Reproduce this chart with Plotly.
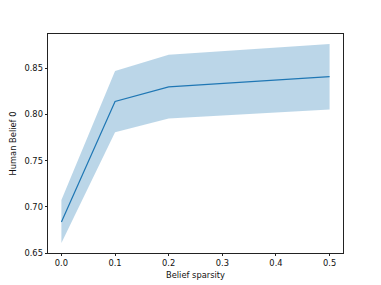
import plotly.graph_objects as go

sparsity = [0.0, 0.1, 0.2, 0.5]
mean_belief = [0.6836, 0.8142, 0.8300, 0.8410]
upper_belief = [0.7075, 0.8470, 0.8648, 0.8764]
lower_belief = [0.6608, 0.7809, 0.7958, 0.8055]
x_ticks = [0.0, 0.1, 0.2, 0.3, 0.4, 0.5]
x_tick_labels = ["0.0", "0.1", "0.2", "0.3", "0.4", "0.5"]
y_ticks = [0.65, 0.70, 0.75, 0.80, 0.85]
y_tick_labels = ["0.65", "0.70", "0.75", "0.80", "0.85"]

C0 = "#1f77b4"

fig = go.Figure()
fig.add_trace(go.Scatter(x=sparsity, y=upper_belief, mode="lines",
                         line=dict(width=0), showlegend=False, hoverinfo="skip"))
fig.add_trace(go.Scatter(x=sparsity, y=lower_belief, mode="lines",
                         line=dict(width=0), fill="tonexty",
                         fillcolor="rgba(31,119,180,0.3)", showlegend=False, hoverinfo="skip"))
fig.add_trace(go.Scatter(x=sparsity, y=mean_belief, mode="lines",
                         line=dict(color=C0, width=1.2), showlegend=False))

axis_common = dict(showgrid=False, zeroline=False, showline=True, linecolor="#222",
                   linewidth=0.8, mirror=True, ticks="outside", ticklen=2.5,
                   tickwidth=0.8, tickcolor="#222", automargin=False,
                   tickfont=dict(family="DejaVu Sans", size=8.3, color="#111"))

fig.update_layout(
    width=381, height=285,
    margin=dict(l=40, r=46, t=26, b=40),
    paper_bgcolor="white", plot_bgcolor="white",
    font=dict(family="DejaVu Sans", size=8.3, color="#111"),
    xaxis=dict(range=[-0.025, 0.525], tickvals=x_ticks, ticktext=x_tick_labels,
               title=dict(text="Belief sparsity", standoff=4,
                          font=dict(family="DejaVu Sans", size=8.3)),
               **axis_common),
    yaxis=dict(range=[0.6500, 0.8872], tickvals=y_ticks, ticktext=y_tick_labels,
               title=dict(text="Human Belief 0", standoff=6,
                          font=dict(family="DejaVu Sans", size=8.3)),
               **axis_common),
)

fig.write_html("out.html")
